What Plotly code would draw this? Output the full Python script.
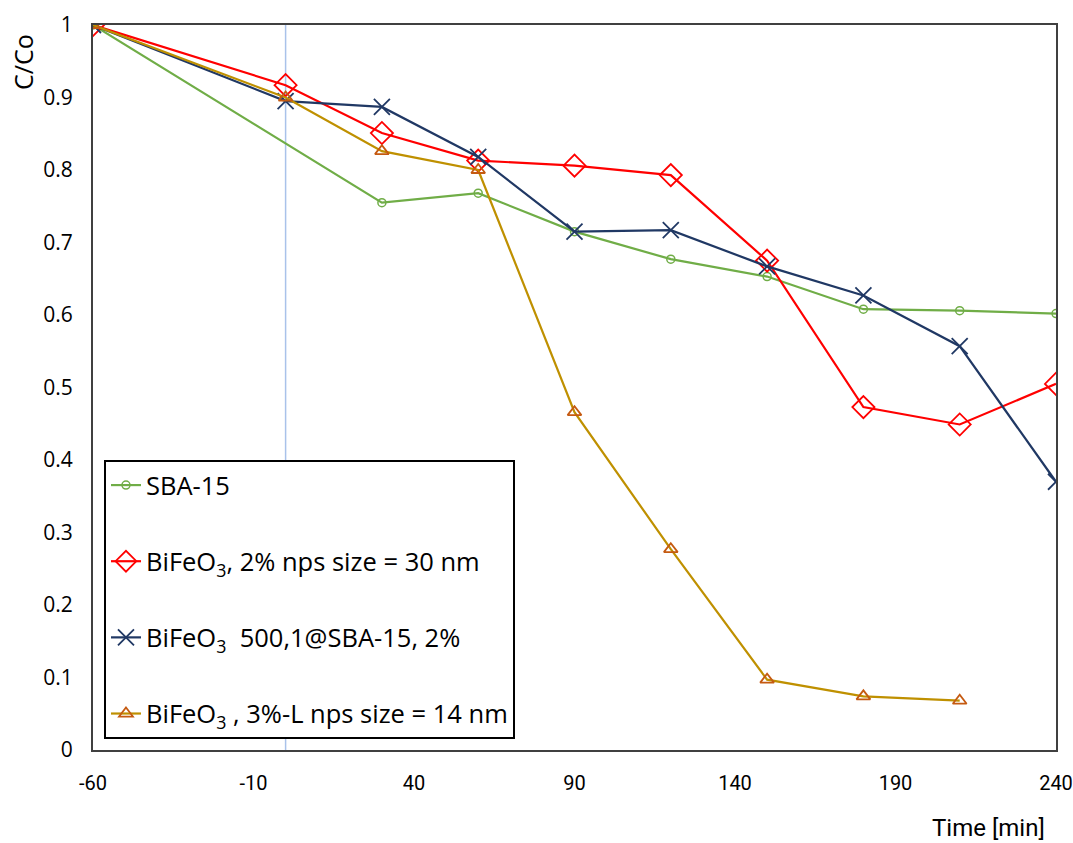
import plotly.graph_objects as go

x_sba = [-60, 30, 60, 90, 120, 150, 180, 210, 240]
y_sba = [1.0, 0.755, 0.768, 0.715, 0.677, 0.653, 0.608, 0.606, 0.602]

x_bfo2 = [-60, 0, 30, 60, 90, 120, 150, 180, 210, 240]
y_bfo2 = [1.0, 0.917, 0.851, 0.813, 0.806, 0.793, 0.675, 0.473, 0.449, 0.505]

x_bfo_sba = [-60, 0, 30, 60, 90, 120, 150, 180, 210, 240]
y_bfo_sba = [1.0, 0.895, 0.887, 0.818, 0.715, 0.717, 0.667, 0.627, 0.557, 0.370]

x_bfo3 = [-60, 0, 30, 60, 90, 120, 150, 180, 210]
y_bfo3 = [1.0, 0.900, 0.826, 0.800, 0.466, 0.277, 0.097, 0.074, 0.068]

x_ticks = [-60, -10, 40, 90, 140, 190, 240]
y_ticks = [0, 0.1, 0.2, 0.3, 0.4, 0.5, 0.6, 0.7, 0.8, 0.9, 1]
y_tick_text = ["0", "0.1", "0.2", "0.3", "0.4", "0.5", "0.6", "0.7", "0.8", "0.9", "1"]

names = [
    "SBA-15",
    "BiFeO<sub>3</sub>, 2% nps size = 30 nm",
    "BiFeO<sub>3</sub>  500,1@SBA-15, 2%",
    "BiFeO<sub>3</sub> , 3%-L nps size = 14 nm",
]

fig = go.Figure()

# vertical reference line at t = 0
fig.add_shape(type="line", x0=0, x1=0, y0=0, y1=1, xref="x", yref="y",
              line=dict(color="#A9C2EA", width=1.5), layer="below")

fig.add_trace(go.Scatter(x=x_sba, y=y_sba, name=names[0], mode="lines+markers",
                         line=dict(color="#70AD47", width=2.2),
                         marker=dict(symbol="circle-open", size=8, color="#70AD47", line=dict(width=1.5)),
                         legendgroup="a"))
fig.add_trace(go.Scatter(x=x_bfo2, y=y_bfo2, name=names[1], mode="lines+markers",
                         line=dict(color="#FF0000", width=2.2),
                         marker=dict(symbol="diamond-open", size=17, color="#FF0000", line=dict(width=1.8)),
                         legendgroup="b"))
fig.add_trace(go.Scatter(x=x_bfo_sba, y=y_bfo_sba, name=names[2], mode="lines+markers",
                         line=dict(color="#203864", width=2.2),
                         marker=dict(symbol="x-thin-open", size=16, color="#203864", line=dict(width=1.8, color="#203864")),
                         legendgroup="c"))
fig.add_trace(go.Scatter(x=x_bfo3, y=y_bfo3, name=names[3], mode="lines+markers",
                         line=dict(color="#BF9000", width=2.2),
                         marker=dict(symbol="triangle-up-open", size=12, color="#C55A11", line=dict(width=1.8, color="#C55A11")),
                         legendgroup="d"))

fig.update_layout(
    width=1073, height=843,
    margin=dict(l=93, r=17, t=25, b=93, autoexpand=False),
    paper_bgcolor="white", plot_bgcolor="white",
    font=dict(family="Open Sans, Liberation Sans, sans-serif", color="black", size=18),
    showlegend=True,
    legend=dict(x=0.0114, y=0.4, xanchor="left", yanchor="top",
                bgcolor="white", bordercolor="black", borderwidth=2,
                font=dict(size=25.5, family="Open Sans, sans-serif"),
                tracegroupgap=40, itemwidth=30, traceorder="grouped"),
    xaxis=dict(range=[-60, 240], tickvals=x_ticks, ticktext=[str(v) for v in x_ticks],
               showgrid=False, zeroline=False, showline=True, linecolor="#404040", linewidth=2,
               mirror=True, ticks="", ticklen=0, automargin=False, ticklabelstandoff=14,
               tickfont=dict(family="Liberation Sans Narrow, Roboto, sans-serif", size=20)),
    yaxis=dict(range=[0, 1], tickvals=y_ticks, ticktext=y_tick_text,
               showgrid=False, zeroline=False, showline=True, linecolor="#404040", linewidth=2,
               mirror=True, ticks="", ticklen=0, automargin=False, ticklabelstandoff=14,
               tickfont=dict(family="Open Sans, sans-serif", size=21)),
)

fig.add_annotation(text="C/Co", xref="paper", yref="paper", x=-0.0727, y=0.949,
                   textangle=-90, showarrow=False, xanchor="center", yanchor="middle",
                   font=dict(size=25, family="Open Sans, sans-serif"))
fig.add_annotation(text="Time [min]", xref="paper", yref="paper", x=0.9907, y=-0.1076,
                   showarrow=False, xanchor="right", yanchor="middle",
                   font=dict(size=24, family="Liberation Sans Narrow, Roboto, sans-serif"))

fig.write_html("out.html")
